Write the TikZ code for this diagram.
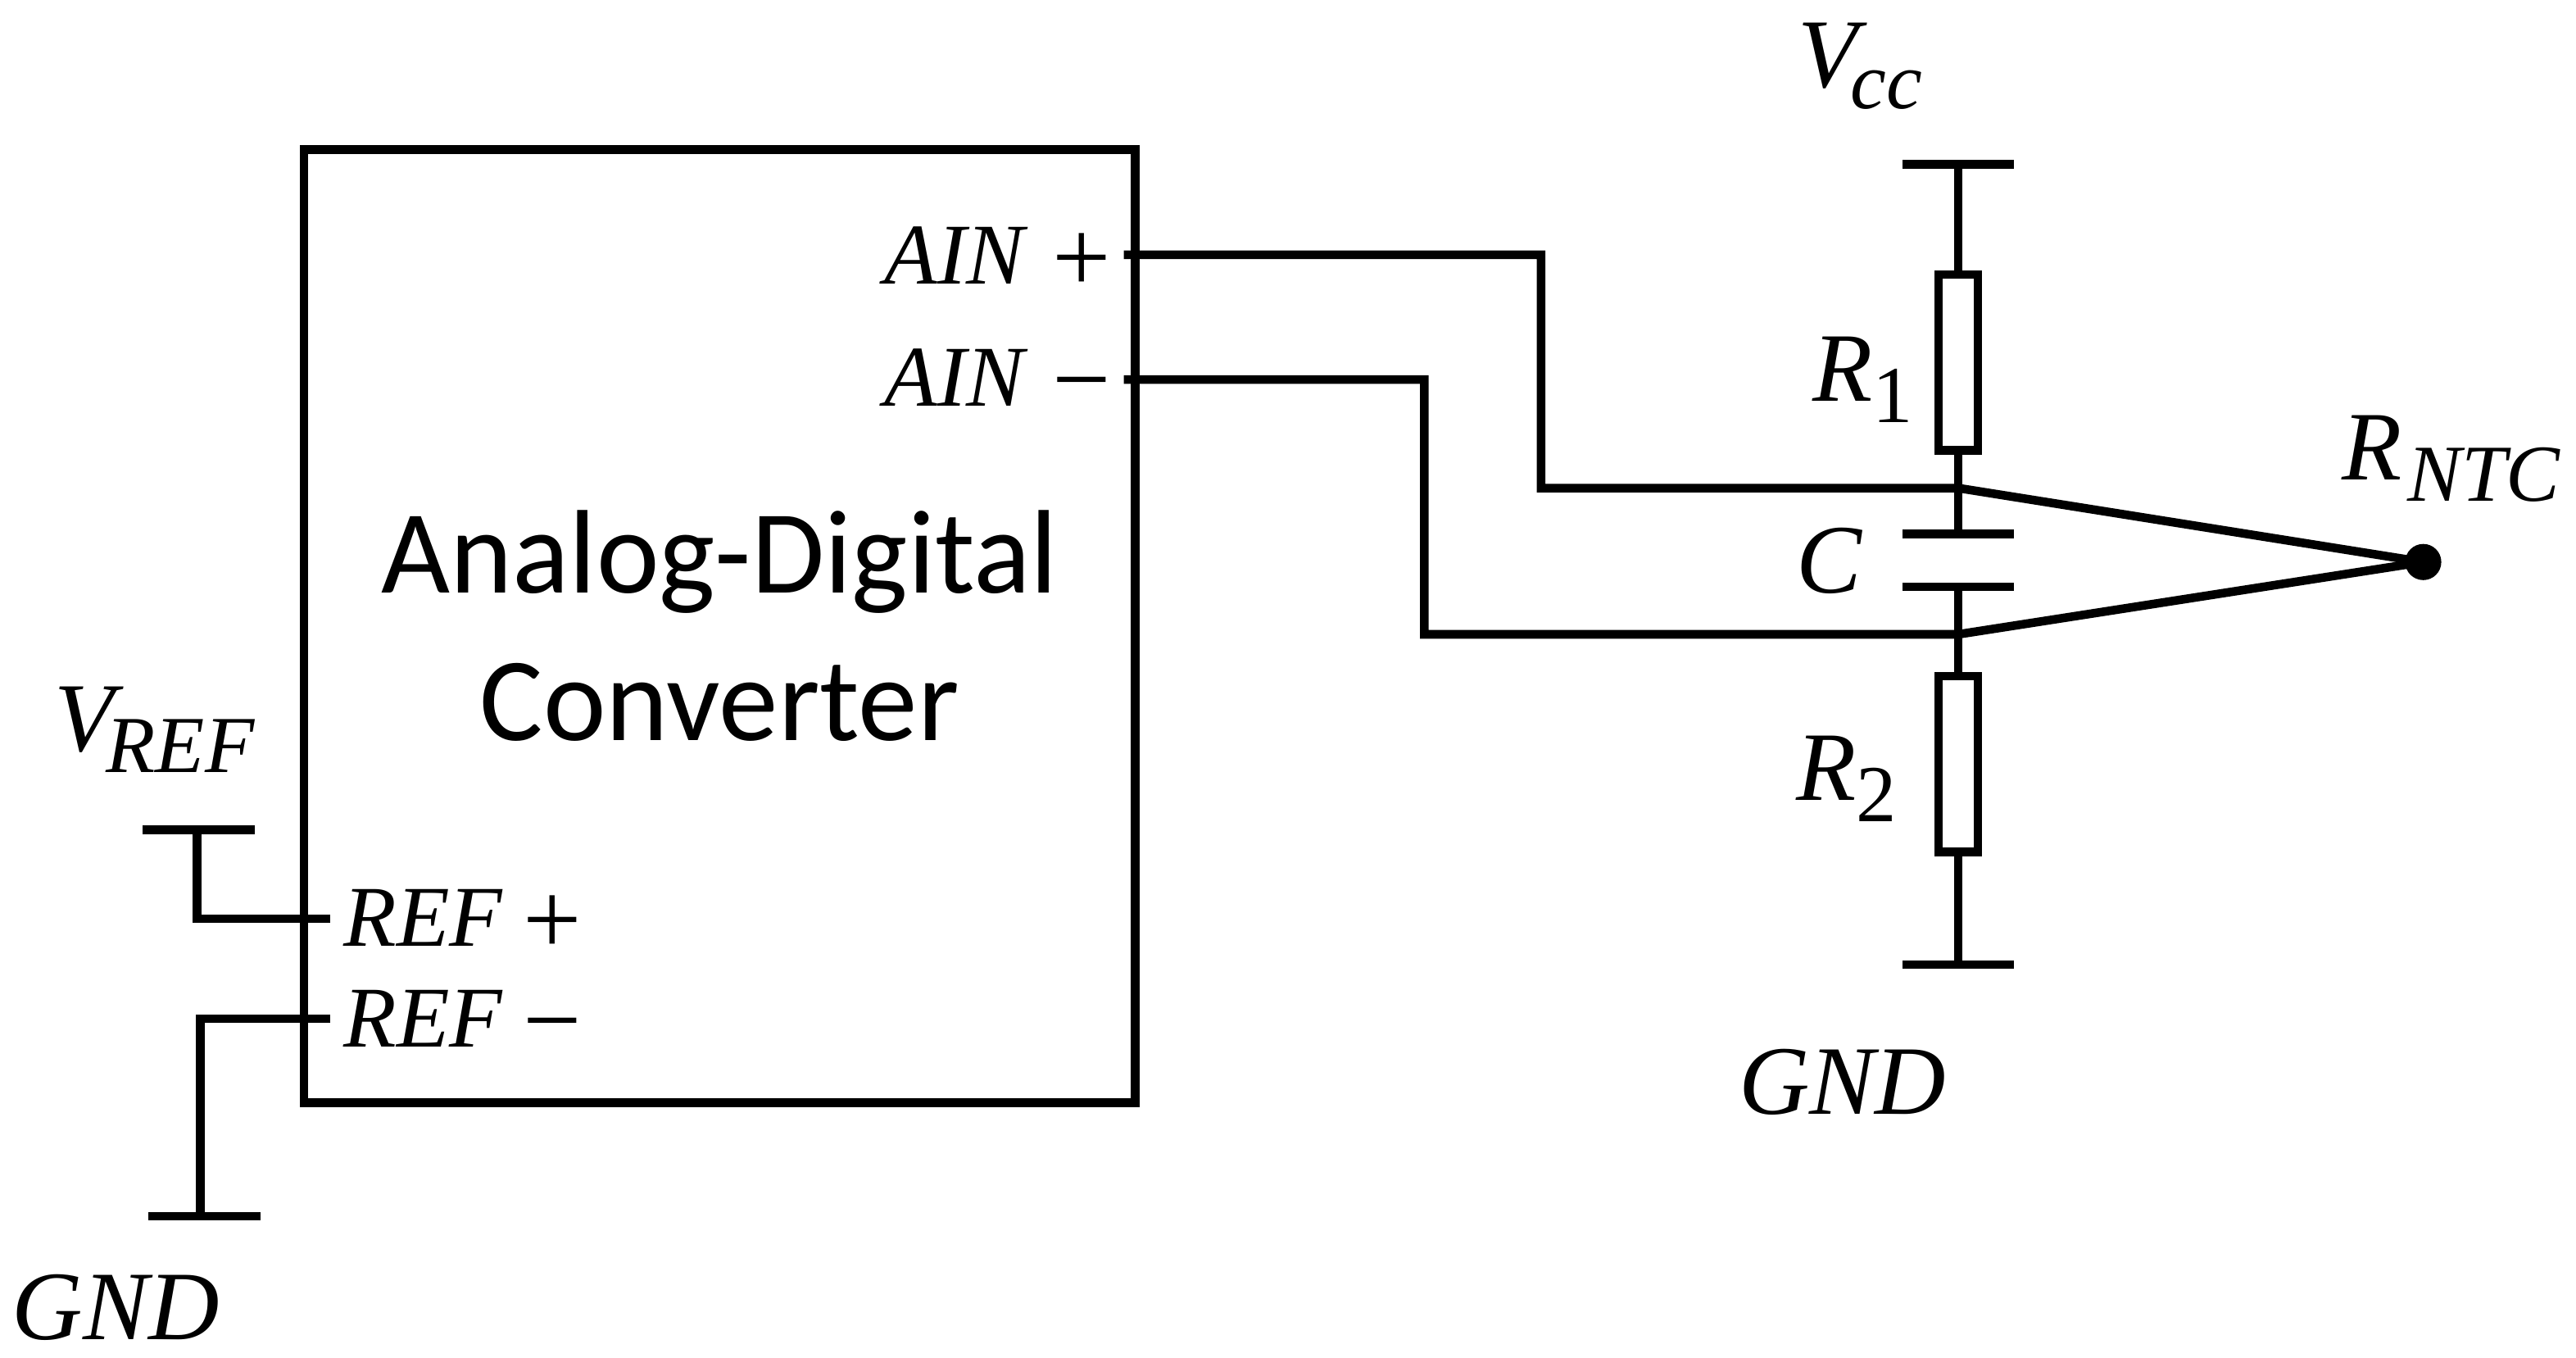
\documentclass[tikz,border=0pt]{standalone}
\usepackage{fontspec}
\setmainfont{Carlito}
\newfontfamily\symfont{Liberation Serif}
\usetikzlibrary{positioning}
\newcommand{\symsub}[2]{#1\raisebox{-7.5pt}{\fontsize{28}{30}\selectfont #2}}
\newcommand{\pinsym}[3]{#1\hspace{#3}\raisebox{-2.8pt}{\upshape\fontsize{36}{36}\selectfont #2}}
\tikzstyle{wire}=[line width=0.105cm]
\tikzstyle{rail}=[rectangle,fill=black,minimum width=1.36cm,minimum height=0.105cm,inner sep=0,outer sep=0]
\tikzstyle{res}=[rectangle,draw,line width=0.105cm,minimum width=0.48cm,minimum height=2.14cm,inner sep=0,outer sep=0]
\tikzstyle{biglabel}=[anchor=base west,inner sep=0,font=\fontsize{34}{40}\selectfont\symfont\itshape]
\tikzstyle{pinlabel}=[anchor=base west,inner sep=0,font=\fontsize{30}{34}\selectfont\symfont\itshape]

\begin{document}
\begin{tikzpicture}[x=0.02cm,y=-0.02cm]
    \useasboundingbox (0,0) rectangle (1568,826);

    % converter
    \node[draw,line width=0.105cm,minimum width=10.12cm,minimum height=11.6cm,inner sep=0,outer sep=0,align=center,font=\fontsize{41.2}{51}\selectfont] (adc) at (438,381) {Analog-Digital\\Converter};
    \node[pinlabel] (ainplabel) at (538,173) {\pinsym{AIN}{+}{10pt}};
    \node[pinlabel] (ainmlabel) at (538,247) {\pinsym{AIN}{−}{10pt}};
    \node[pinlabel] (refplabel) at (209,576) {\pinsym{REF}{+}{7pt}};
    \node[pinlabel] (refmlabel) at (209,637) {\pinsym{REF}{−}{7pt}};

    % divider
    \node[rail] (vcc) at (1192,100) {};
    \node[res] (r1) at (1192,220.5) {};
    \node[rail] (ctop) at (1192,325) {};
    \node[rail] (cbot) at (1192,357) {};
    \node[res] (r2) at (1192,465) {};
    \node[rail] (gndr) at (1192,587) {};
    \node[circle,fill=black,minimum size=0.44cm,inner sep=0] (ntc) at (1475,342) {};

    \node[biglabel] (vcclabel) at (1094,53) {\symsub{V\kern-2.5pt}{cc}};
    \node[biglabel] (r1label) at (1103,244) {\symsub{R}{\upshape 1}};
    \node[biglabel] (clabel) at (1093,361) {C};
    \node[biglabel] (r2label) at (1093,487) {\symsub{R}{\upshape 2}};
    \node[biglabel] (gndrlabel) at (1058,678) {GND};
    \node[biglabel] (ntclabel) at (1425,292) {\symsub{R\kern2pt}{NTC}};

    % reference side
    \node[rail] (vref) at (121,505) {};
    \node[rail] (gndl) at (124.5,740) {};
    \node[biglabel] (vreflabel) at (33,457) {\symsub{V\kern-3pt}{REF}};
    \node[biglabel] (gndllabel) at (7,815) {GND};

    \coordinate (ainp) at (684,155);
    \coordinate (ainm) at (684,231);
    \coordinate (refp) at (201,559);
    \coordinate (refm) at (201,620);
    \coordinate (bendp) at (938,226);
    \coordinate (bendm) at (867,308);
    \coordinate (tapp) at (1192,297);
    \coordinate (tapm) at (1192,386);
    \coordinate (refptop) at (120,505);
    \coordinate (refmbot) at (122,740);

    \draw[wire] (vcc) -- (r1);
    \draw[wire] (r1) -- (ctop);
    \draw[wire] (cbot) -- (r2);
    \draw[wire] (r2) -- (gndr);
    \draw[wire] (ainp) -| (bendp) |- (tapp) -- (ntc.center);
    \draw[wire] (ainm) -| (bendm) |- (tapm) -- (ntc.center);
    \draw[wire] (refp) -| (refptop);
    \draw[wire] (refm) -| (refmbot);
\end{tikzpicture}
\end{document}
